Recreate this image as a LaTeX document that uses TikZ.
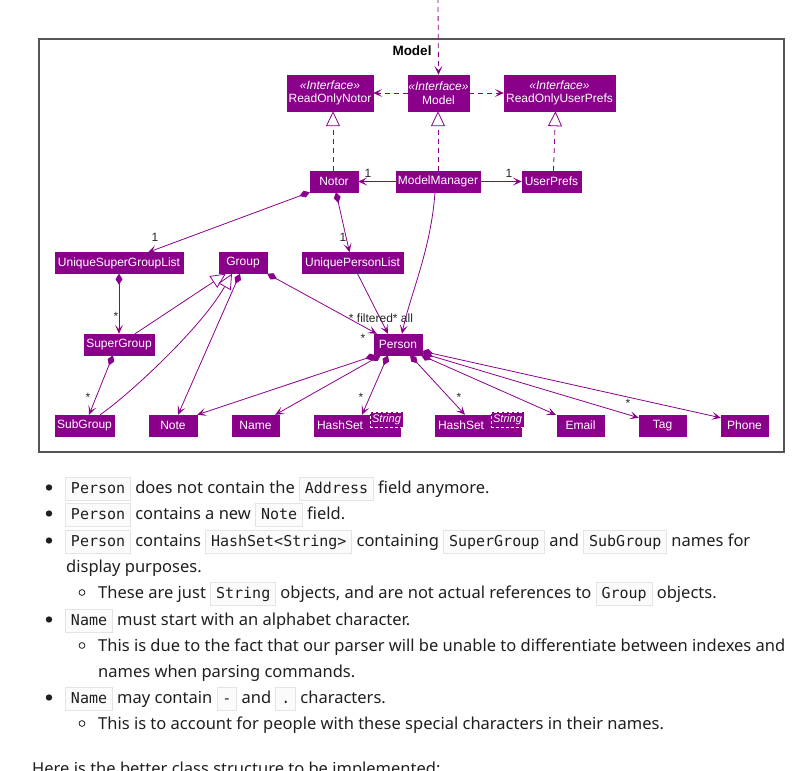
\documentclass[tikz,border=0pt]{standalone}
\usepackage{fontspec}
\setmainfont{Noto Sans}
\newfontfamily\umlfont{Liberation Sans}
\newfontfamily\codefont{DejaVu Sans Mono}
\usetikzlibrary{arrows.meta}
\definecolor{P}{HTML}{8B008B}
\definecolor{cbg}{HTML}{FBFBFB}
\definecolor{cbd}{HTML}{E4E4E4}
\definecolor{frame}{HTML}{555555}
\newcommand\cb[1]{{\setlength\fboxsep{0pt}\setlength\fboxrule{0.8pt}\fcolorbox{cbd}{cbg}{\hspace{5pt}\rule[-6.5pt]{0pt}{22pt}{\codefont\fontsize{15}{15}\selectfont #1}\hspace{5pt}}}}
\tikzset{
  cls/.style={fill=P, draw=P, text=white, font=\umlfont\fontsize{12}{13.5}\selectfont, inner sep=0pt, minimum height=21pt},
  iface/.style={cls, minimum height=36pt, align=center},
  tagbox/.style={fill=P, draw=white, densely dashed, line width=0.5pt, text=white, font=\umlfont\itshape\fontsize{11}{11}\selectfont, inner sep=0pt, minimum width=33pt, minimum height=15pt},
  lbl/.style={font=\umlfont\fontsize{12}{12}\selectfont, text=black!85, inner sep=0pt},
  edge/.style={draw=P, line width=0.8pt},
  ar/.style={edge, -{Stealth[length=9pt,width=8pt,inset=4.5pt]}},
  dar/.style={ar, dash pattern=on 5pt off 4pt},
  comp/.style={edge, {Diamond[length=11pt,width=7pt]}-{Stealth[length=9pt,width=8pt,inset=4.5pt]}},
  real/.style={edge, -{Triangle[open,length=15pt,width=14pt,fill=white]}},
  dreal/.style={real, dash pattern=on 5pt off 4pt},
  body/.style={font=\fontsize{16.5}{20}\selectfont, text=black!88, inner sep=0pt, anchor=base west},
}
\begin{document}
\begin{tikzpicture}[x=1pt,y=-1pt]
\useasboundingbox (0,0) rectangle (812,771);
% frame
\draw[frame, line width=1.3pt] (39,39) rectangle (784,452);
\node[font=\umlfont\bfseries\fontsize{13.5}{14}\selectfont, inner sep=0pt] (title) at (412,51) {Model};
% classes
\node[iface, minimum width=86pt] (RON) at (330,93) {\textit{«Interface»}\\ReadOnlyNotor};
\node[iface, minimum width=61pt] (MI) at (438.5,93) {\textit{«Interface»}\\Model};
\node[iface, minimum width=111pt] (RUP) at (559.5,93) {\textit{«Interface»}\\ReadOnlyUserPrefs};
\node[cls, minimum width=48pt] (Notor) at (334,181.5) {Notor};
\node[cls, minimum width=84pt] (MM) at (438,181.5) {ModelManager};
\node[cls, minimum width=59pt] (UP) at (551.5,181.5) {UserPrefs};
\node[cls, minimum width=128pt] (USGL) at (119,263) {UniqueSuperGroupList};
\node[cls, minimum width=48pt] (Group) at (243,263) {Group};
\node[cls, minimum width=101pt] (UPL) at (352.5,263) {UniquePersonList};
\node[cls, minimum width=70pt] (SG) at (119,344.5) {SuperGroup};
\node[cls, minimum width=48pt] (Person) at (398,344.5) {Person};
\node[cls, minimum width=59pt] (SubG) at (84.5,425.5) {SubGroup};
\node[cls, minimum width=48pt] (Note) at (173,425.5) {Note};
\node[cls, minimum width=47pt] (Name) at (255.5,425.5) {Name};
\node[cls, minimum width=86pt] (HS1) at (357,425.5) {\makebox[80pt][l]{HashSet}};
\node[tagbox] (HS1t) at (386.5,419.5) {String};
\node[cls, minimum width=86pt] (HS2) at (478,425.5) {\makebox[80pt][l]{HashSet}};
\node[tagbox] (HS2t) at (507.5,419.5) {String};
\node[cls, minimum width=47pt] (Email) at (580.5,425.5) {Email};
\node[cls, minimum width=47pt] (Tag) at (662.5,425.5) {Tag};
\node[cls, minimum width=47pt] (Phone) at (744.5,425.5) {Phone};
% connectors
\coordinate (top) at (438,-2);
\draw[dar] (top) -- (MI.north);
\draw[dar] (MI.west) -- (RON.east);
\draw[dar] (MI.east) -- (RUP.west);
\draw[dreal] ([xshift=-1pt]Notor.north) -- ([xshift=3pt]RON.south);
\draw[dreal] (MM.north) -- ([xshift=-0.5pt]MI.south);
\draw[dreal] ([xshift=2pt]UP.north) -- ([xshift=-4pt]RUP.south);
\draw[ar] (MM.west) -- (Notor.east);
\draw[ar] (MM.east) -- (UP.west);
\node[lbl] (l1a) at (368,173) {1};
\node[lbl] (l1b) at (509,173) {1};
\draw[comp] (Notor.south west) -- ([xshift=29pt]USGL.north);
\node[lbl] (l1c) at (155,237) {1};
\draw[comp] ([xshift=2pt]Notor.south) -- ([xshift=-3pt]UPL.north);
\node[lbl] (l1d) at (343,237) {1};
\draw[ar] ([xshift=-3pt]MM.south) .. controls (431,250) and (410,295) .. ([xshift=4pt]Person.north);
\draw[ar] ([xshift=5pt]UPL.south) -- ([xshift=-10pt]Person.north);
\draw[comp] (Group.south east) -- ([xshift=3pt]Person.north west);
\node[lbl] (lfa) at (381,318) {* filtered* all};
\node[lbl] (lsp) at (363,338) {*};
\draw[comp] (USGL.south) -- (SG.north);
\node[lbl] (ls1) at (116,316) {*};
\draw[real] ([xshift=16pt]SG.north) -- ([xshift=7pt]Group.south west);
\draw[real] ([xshift=15.5pt]SubG.north) .. controls (125,398) and (200,330) .. ([xshift=-11pt]Group.south);
\draw[comp] ([xshift=-3pt]Group.south) -- ([xshift=5pt]Note.north);
\draw[comp] ([xshift=-6pt]SG.south) -- ([xshift=4.5pt]SubG.north);
\node[lbl] (ls2) at (88,397) {*};
\draw[comp] ([xshift=2pt]Person.south west) -- (Note.north east);
\draw[comp] ([xshift=7pt]Person.south west) -- ([xshift=-4pt]Name.north east);
\draw[comp] ([xshift=-10pt]Person.south) -- ([xshift=5pt]HS1.north);
\node[lbl] (ls3) at (361,397) {*};
\draw[comp] ([xshift=12pt]Person.south) -- ([xshift=-13pt]HS2.north);
\node[lbl] (ls4) at (459,397) {*};
\draw[comp] ([xshift=-1pt]Person.south east) -- ([xshift=-1pt]Email.north west);
\draw[comp] ([yshift=2pt]Person.south east) -- ([yshift=-3pt]Tag.north west);
\node[lbl] (ls5) at (628,403) {*};
\draw[comp] ([yshift=4pt]Person.south east) -- ([yshift=-3pt]Phone.north west);
% text below
\foreach \y in {493,519,546,625,703} \fill[black!88] (49,\y-5.5) circle (3.2pt);
\foreach \y in {598,651,729} \draw[black!88, line width=0.8pt] (82,\y-5.5) circle (2.9pt);
\node[body] (t1) at (65,493) {\cb{Person} does not contain the \cb{Address} field anymore.};
\node[body] (t2) at (65,519) {\cb{Person} contains a new \cb{Note} field.};
\node[body] (t3) at (65,546) {\cb{Person} contains \cb{HashSet<String>} containing \cb{SuperGroup} and \cb{SubGroup} names for};
\node[body] (t4) at (66,572) {display purposes.};
\node[body] (t5) at (98,598) {These are just \cb{String} objects, and are not actual references to \cb{Group} objects.};
\node[body] (t6) at (65,625) {\cb{Name} must start with an alphabet character.};
\node[body] (t7) at (98,651) {This is due to the fact that our parser will be unable to differentiate between indexes and};
\node[body] (t8) at (98,677) {names when parsing commands.};
\node[body] (t9) at (65,703) {\cb{Name} may contain \cb{-} and \cb{.} characters.};
\node[body] (t10) at (98,729) {This is to account for people with these special characters in their names.};
\node[body] (t11) at (32,774) {Here is the better class structure to be implemented:};
\end{tikzpicture}
\end{document}
